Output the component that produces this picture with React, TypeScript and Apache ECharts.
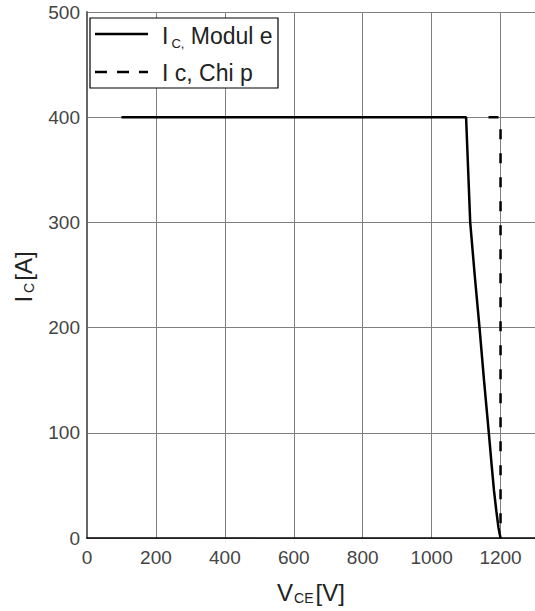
import React, { useEffect, useRef } from "react";
import * as echarts from "echarts";

const moduleData: [number, number][] = [
  [100, 400], [1100, 400], [1106, 350], [1112, 300], [1125, 250], [1139, 200],
  [1152, 150], [1166, 100], [1174, 70], [1181, 45], [1188, 25], [1194, 10], [1198, 3], [1200, 0],
];
const chipData: [number, number][] = [[1165, 400], [1200, 400], [1200, 0]];
const xTicks = { min: 0, max: 1300, interval: 200 };
const yTicks = { min: 0, max: 500, interval: 100 };

const FONT = "Liberation Sans";

export default function App() {
  const ref = useRef<HTMLDivElement>(null);
  useEffect(() => {
    if (!ref.current) return;
    const chart = echarts.init(ref.current, null, { renderer: "svg" });
    chart.setOption({
      animation: false,
      backgroundColor: "#fff",
      grid: { left: 87, top: 12, right: 0, height: 526 },
      xAxis: {
        type: "value",
        min: xTicks.min,
        max: xTicks.max,
        interval: xTicks.interval,
        axisLine: { show: true, lineStyle: { color: "#000", width: 1.5 } },
        axisTick: { show: false },
        axisLabel: {
          color: "#444", fontSize: 19, fontFamily: FONT, margin: 10, showMaxLabel: false,
          formatter: (v: number) => String(v),
        },
        splitLine: { show: true, lineStyle: { color: "#808080", width: 1 } },
      },
      yAxis: {
        type: "value",
        min: yTicks.min,
        max: yTicks.max,
        interval: yTicks.interval,
        axisLine: { show: true, lineStyle: { color: "#666", width: 2 } },
        axisTick: { show: false },
        axisLabel: { color: "#444", fontSize: 19, fontFamily: FONT, margin: 7, formatter: (v: number) => String(v) },
        splitLine: { show: true, lineStyle: { color: "#808080", width: 1 } },
      },
      series: [
        {
          name: "Ic, Chip",
          type: "line",
          data: chipData,
          symbol: "none",
          z: 2,
          lineStyle: { color: "#000", width: 2.5, type: [10, 14] },
        },
        {
          name: "IC, Module",
          type: "line",
          data: moduleData,
          symbol: "none",
          z: 3,
          lineStyle: { color: "#000", width: 2.5 },
        },
      ],
      graphic: [
        {
          type: "rect",
          shape: { x: 90, y: 18, width: 188, height: 70 },
          style: { fill: "#fff", stroke: "#000", lineWidth: 1.2 },
          z: 10,
        },
        {
          type: "line",
          shape: { x1: 95, y1: 34, x2: 148, y2: 34 },
          style: { stroke: "#000", lineWidth: 2.5 },
          z: 11,
        },
        {
          type: "line",
          shape: { x1: 95, y1: 72, x2: 148, y2: 72 },
          style: { stroke: "#000", lineWidth: 2.5, lineDash: [12, 10] },
          z: 11,
        },
        {
          type: "text",
          x: 162,
          y: 36,
          z: 11,
          style: {
            text: "{a|I}{s|C,}{a| Modul e}",
            verticalAlign: "middle",
            rich: {
              a: { fontSize: 23, fontFamily: FONT, fill: "#222" },
              s: { fontSize: 13, fontFamily: FONT, fill: "#222", padding: [14, 0, 0, 3] },
            },
          },
        },
        {
          type: "text",
          x: 162,
          y: 73,
          z: 11,
          style: {
            text: "I c, Chi p",
            verticalAlign: "middle",
            fontSize: 23,
            fontFamily: FONT,
            fill: "#222",
          },
        },
        {
          type: "text",
          x: 311,
          y: 592,
          z: 11,
          style: {
            text: "{a|V}{s|CE}{a|[V]}",
            align: "center",
            verticalAlign: "middle",
            rich: {
              a: { fontSize: 24, fontFamily: FONT, fill: "#222" },
              s: { fontSize: 14, fontFamily: FONT, fill: "#222", padding: [12, 2, 0, 1] },
            },
          },
        },
        {
          type: "text",
          x: 23,
          y: 277,
          rotation: Math.PI / 2,
          z: 11,
          style: {
            text: "{a|I}{s|C}{a|[A]}",
            align: "center",
            verticalAlign: "middle",
            rich: {
              a: { fontSize: 24, fontFamily: FONT, fill: "#222" },
              s: { fontSize: 14, fontFamily: FONT, fill: "#222", padding: [12, 2, 0, 3] },
            },
          },
        },
      ],
    });
    return () => chart.dispose();
  }, []);
  return <div ref={ref} style={{ width: 535, height: 611, position: "absolute", left: 0, top: 0 }} />;
}
